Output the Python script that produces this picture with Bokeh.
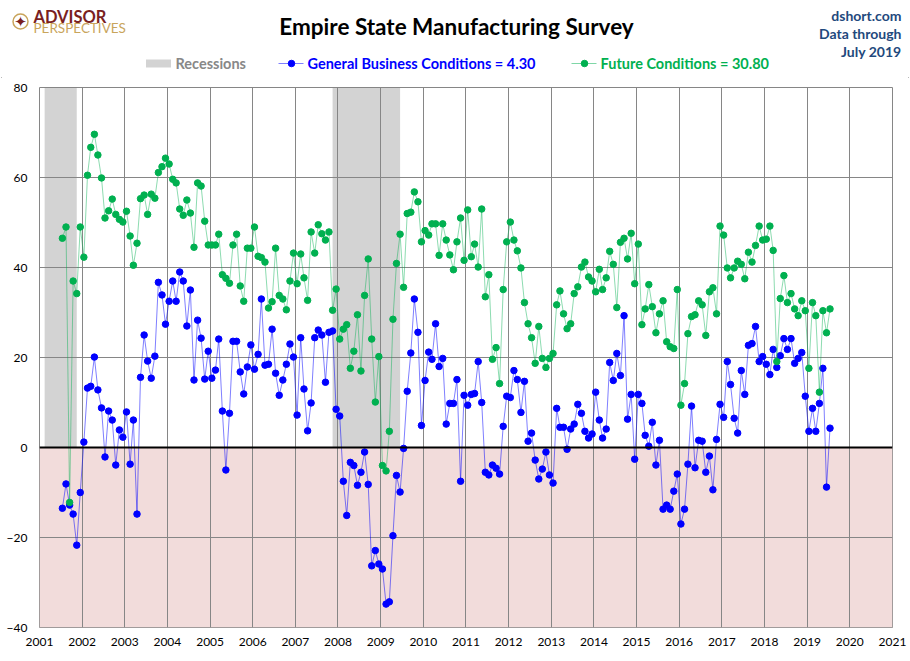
import pandas as pd
from bokeh.plotting import figure
from bokeh.layouts import column
from bokeh.models import (BoxAnnotation, Span, ColumnDataSource, FixedTicker,
                          Range1d, DatetimeTickFormatter)
from bokeh.core.properties import value
from bokeh.embed import file_html
from bokeh.resources import INLINE

# ---------------- data (monthly, Jul 2001 .. Jul 2019) ----------------
first_month = "2001-07-01"
general = [
    -13.5, -8.1, -12.8, -14.8, -21.7, -10.0,
    1.2, 13.2, 13.6, 20.1, 12.8, 8.8, -2.1, 8.1, 6.1, -3.9, 3.9, 2.3,
    7.9, -3.7, 6.1, -14.8, 15.6, 25.0, 19.2, 15.4, 20.3, 36.7, 33.9, 27.4,
    32.5, 37.0, 32.5, 39.0, 37.0, 27.0, 35.0, 15.0, 28.3, 24.3, 15.2, 21.4,
    15.4, 17.2, 24.1, 8.1, -5.0, 7.6, 23.6, 23.6, 16.8, 11.9, 17.9, 22.8,
    17.4, 20.7, 33.0, 18.3, 18.5, 26.3, 16.5, 11.6, 15.0, 18.5, 23.0, 20.1,
    7.2, 24.4, 13.0, 3.7, 9.9, 24.4, 26.1, 25.0, 14.5, 25.6, 25.9, 8.5,
    7.0, -7.5, -15.1, -3.3, -4.0, -8.4, -5.5, -1.0, -8.2, -26.3, -22.9, -25.9,
    -27.0, -34.8, -34.3, -19.6, -6.2, -9.9, -0.2, 12.5, 21.0, 33.0, 25.6, 4.9,
    14.9, 21.2, 19.6, 27.5, 18.0, 19.8, 5.2, 9.8, 9.8, 15.1, -7.5, 11.6,
    9.4, 11.8, 12.0, 19.1, 10.0, -5.5, -6.1, -3.9, -4.6, -5.9, 4.7, 11.4,
    11.1, 17.1, 15.1, 7.8, 14.7, 1.4, 3.2, -2.8, -7.0, -4.8, -1.0, -6.1,
    -7.9, 8.7, 4.5, 4.5, -0.4, 4.1, 5.2, 9.6, 7.6, 3.6, 2.1, 3.0,
    12.3, 6.1, 2.1, 4.1, 18.9, 14.9, 20.9, 16.0, 29.3, 6.3, 11.8, -2.6,
    11.8, 9.8, 2.7, 0.3, 5.6, -3.9, 1.6, -13.7, -12.8, -13.7, -9.7, -5.9,
    -17.0, -13.7, -3.7, 9.2, -4.5, 1.6, 1.4, -5.5, -1.9, -9.4, 1.8, 9.6,
    6.7, 19.1, 14.0, 6.5, 3.2, 17.1, 11.8, 22.7, 23.1, 26.9, 19.1, 20.2,
    18.5, 16.2, 21.8, 17.8, 20.4, 24.2, 21.8, 24.2, 18.7, 19.8, 21.1, 11.4,
    3.6, 8.7, 3.6, 9.8, 17.6, -8.8, 4.3,
]
future = [
    46.5, 49.0, -12.2, 37.0, 34.2, 49.0,
    42.3, 60.5, 66.7, 69.6, 65.0, 59.9, 51.0, 52.6, 55.2, 51.8, 50.7, 50.1,
    52.5, 47.0, 40.5, 45.4, 55.3, 56.1, 51.8, 56.3, 55.4, 61.1, 62.4, 64.3,
    63.0, 59.6, 58.8, 53.0, 51.6, 55.0, 52.1, 44.5, 58.8, 58.1, 50.3, 45.0,
    45.0, 45.0, 47.4, 38.4, 37.6, 36.5, 45.0, 47.4, 35.9, 32.5, 44.3, 44.3,
    49.0, 42.5, 42.2, 41.2, 31.0, 32.4, 44.3, 33.8, 33.0, 30.6, 37.0, 43.2,
    36.4, 43.0, 37.7, 32.7, 47.9, 43.2, 49.5, 47.5, 46.1, 47.9, 30.5, 35.2,
    24.1, 26.3, 27.3, 17.6, 21.4, 29.5, 17.0, 33.8, 41.9, 24.1, 10.1, 20.2,
    -4.0, -5.2, 3.6, 28.5, 40.9, 47.4, 35.6, 52.0, 52.3, 56.8, 54.6, 45.7,
    48.2, 47.2, 49.7, 49.7, 42.7, 49.7, 46.1, 42.8, 39.5, 45.7, 51.0, 41.6,
    52.8, 42.4, 45.2, 40.1, 53.0, 33.5, 38.4, 19.6, 22.2, 14.2, 35.1, 45.7,
    50.1, 46.1, 43.7, 39.9, 32.2, 27.5, 24.4, 18.7, 26.9, 19.8, 17.8, 19.8,
    20.9, 31.7, 34.8, 29.7, 26.4, 27.5, 34.2, 35.7, 40.1, 41.2, 37.9, 37.0,
    34.6, 39.6, 35.1, 37.7, 43.6, 40.7, 31.1, 45.6, 46.5, 41.9, 47.6, 36.4,
    45.2, 27.3, 30.8, 36.2, 31.3, 25.5, 29.7, 32.6, 23.5, 22.4, 22.0, 35.1,
    9.4, 14.2, 25.3, 29.1, 29.5, 32.6, 31.7, 24.9, 34.6, 35.5, 29.7, 49.2,
    47.2, 39.9, 37.7, 39.9, 41.4, 40.7, 37.5, 43.4, 41.2, 44.9, 49.2, 46.1,
    46.3, 49.2, 43.8, 19.1, 33.1, 38.2, 32.2, 34.2, 30.8, 29.3, 32.6, 30.4,
    17.6, 32.2, 29.3, 12.3, 30.4, 25.5, 30.8,
]
recession_start = ["2001-03-01", "2007-12-01"]
recession_end = ["2001-11-01", "2009-06-01"]
year_ticks = list(range(2001, 2022))
y_ticks = [-40, -20, 0, 20, 40, 60, 80]
latest_general = "4.30"
latest_future = "30.80"
data_through = "July 2019"

# ---------------- styling constants ----------------
BLUE = "#0000FF"
GREEN = "#00B050"
NAVY = "#1F497D"
FONT = "Lato"

W = 910
HEAD_H = 77
MAIN_H = 584
LEFT, TOP, RIGHT, BOTTOM = 39, 10, 18, 34

# ================= header (title, logo, legend) =================
hd = figure(width=W, height=HEAD_H, x_range=Range1d(0, W), y_range=Range1d(HEAD_H, 0),
            output_backend="svg", toolbar_location=None,
            x_axis_location=None, y_axis_location=None,
            min_border=0, min_border_left=0, min_border_right=0,
            min_border_top=0, min_border_bottom=0)
hd.frame_align = False
hd.outline_line_color = None
hd.xgrid.visible = False
hd.ygrid.visible = False
hd.background_fill_color = "white"
hd.border_fill_color = "white"


def htext(x, y, txt, color, size, bold=True, align="left", font=FONT):
    hd.text(x=[x], y=[y], text=[txt], text_color=color,
            text_font=value(font), text_font_size=size,
            text_font_style="bold" if bold else "normal",
            text_align=align, text_baseline="middle")


# title
htext(456, 26, "Empire State Manufacturing Survey", "black", "22.5px", align="center")

# logo
hd.scatter(x=[20], y=[21], size=15, marker="circle", fill_color=None,
           line_color="#C9A55C", line_width=1.5)
htext(20, 21.5, "\u2726", "#7A1F1F", "15px", bold=False, align="center", font="DejaVu Sans")
htext(33, 16.5, "ADVISOR", "#7A1F1F", "16.5px")
htext(33, 27, "PERSPECTIVES", "#C9A55C", "13.5px", bold=False)

# top right
for txt, yy in (("dshort.com", 15), ("Data through", 33), (data_through, 50.5)):
    htext(901, yy, txt, NAVY, "14px", align="right")

# legend
LEG_Y = 63
hd.rect(x=[158], y=[LEG_Y], width=25, height=8, fill_color="#D3D3D3", line_color=None)
htext(175, LEG_Y, "Recessions", "#888888", "14.5px")
for x0, color, txt in ((278, BLUE, f"General Business Conditions = {latest_general}"),
                       (571, GREEN, f"Future Conditions = {latest_future}")):
    hd.line(x=[x0, x0 + 25], y=[LEG_Y, LEG_Y], line_color=color, line_alpha=0.5, line_width=1)
    hd.scatter(x=[x0 + 13], y=[LEG_Y], size=6.5, fill_color=color, line_color=color)
    htext(x0 + 29, LEG_Y, txt, color, "14.5px")

# ================= main chart =================
dates = pd.date_range(first_month, periods=len(general), freq="MS") + pd.Timedelta(days=15)
src = ColumnDataSource(dict(date=dates, general=general, future=future))

half_month = pd.Timedelta(days=15)
rec_src = ColumnDataSource(dict(
    left=[pd.Timestamp(s) - half_month for s in recession_start],
    right=[pd.Timestamp(e) + half_month for e in recession_end],
))

p = figure(width=W, height=MAIN_H, x_axis_type="datetime",
           x_range=Range1d(pd.Timestamp(f"{year_ticks[0]}-01-01"), pd.Timestamp(f"{year_ticks[-1]}-01-01")),
           y_range=Range1d(y_ticks[0], y_ticks[-1]),
           output_backend="svg", toolbar_location=None,
           min_border_left=LEFT, min_border_right=RIGHT,
           min_border_top=TOP, min_border_bottom=BOTTOM)
p.frame_align = False
p.background_fill_color = "white"
p.border_fill_color = "white"
p.outline_line_color = "#868686"
p.outline_line_width = 1

# negative zone shading
p.add_layout(BoxAnnotation(top=0, fill_color="#F2DCDB", fill_alpha=1.0, line_color=None, level="image"))

# recessions
p.quad(left="left", right="right", bottom=y_ticks[0], top=y_ticks[-1], source=rec_src,
       fill_color="#808080", fill_alpha=0.35, line_color=None, level="image")

# grids
year_ms = [pd.Timestamp(f"{y}-01-01").value // 10**6 for y in year_ticks]
p.xgrid.ticker = FixedTicker(ticks=year_ms)
p.ygrid.ticker = FixedTicker(ticks=y_ticks)
for g in (p.xgrid, p.ygrid):
    g.grid_line_color = "#868686"
    g.grid_line_width = 1
    g.grid_line_alpha = 1.0

p.add_layout(Span(location=0, dimension="width", line_color="black", line_width=2))

# axes
p.xaxis.ticker = FixedTicker(ticks=year_ms)
p.xaxis.formatter = DatetimeTickFormatter(years="%Y", months="%Y", days="%Y", hours="%Y",
                                          minutes="%Y", seconds="%Y", milliseconds="%Y", microseconds="%Y")
p.yaxis.ticker = FixedTicker(ticks=y_ticks)
for ax in (p.xaxis, p.yaxis):
    ax.axis_line_color = None
    ax.major_tick_line_color = None
    ax.minor_tick_line_color = None
    ax.major_tick_out = 0
    ax.major_tick_in = 0
    ax.minor_tick_out = 0
    ax.minor_tick_in = 0
    ax.major_label_text_font = FONT
    ax.major_label_text_font_size = "12px"
    ax.major_label_text_color = "black"
p.xaxis.major_label_standoff = 10
p.yaxis.major_label_standoff = 12

# series
p.line("date", "general", source=src, line_color=BLUE, line_alpha=0.5, line_width=1)
p.scatter("date", "general", source=src, size=6.5, fill_color=BLUE, line_color=BLUE)
p.line("date", "future", source=src, line_color=GREEN, line_alpha=0.45, line_width=1)
p.scatter("date", "future", source=src, size=6.5, fill_color=GREEN, line_color=GREEN)

layout = column(hd, p, spacing=0,
                styles={"outline": "1.5px solid #A0A0A0", "outline-offset": "-2px"})
open("out.html", "w").write(file_html(layout, INLINE))
